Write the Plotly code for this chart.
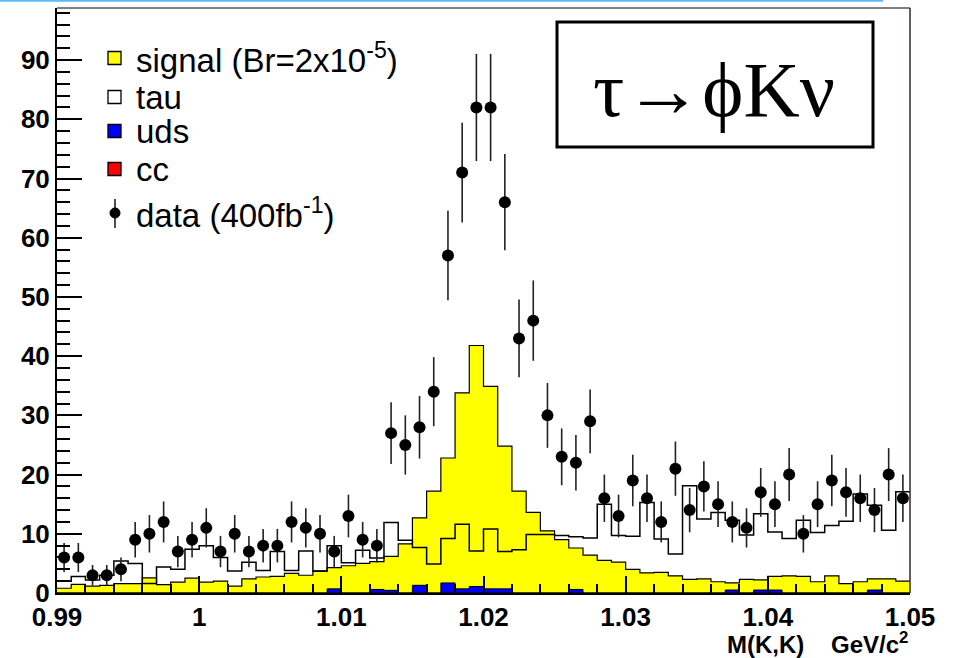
import numpy as np
import plotly.graph_objects as go

# ---- data ----
bin_lo, bin_hi, n_bins = 0.99, 1.05, 60
data_counts = [6, 6, 3, 3, 4, 9, 10, 12, 7, 9, 11, 7, 10, 7, 8, 8, 12, 11, 10, 7,
               13, 9, 8, 27, 25, 28, 34, 57, 71, 82, 82, 66, 43, 46, 30, 23, 22, 29, 16, 13,
               19, 16, 12, 21, 14, 18, 15, 12, 11, 17, 15, 20, 10, 15, 19, 17, 16, 14, 20, 16]
signal = [0.8, 1.45, 1.15, 1.3, 1.6, 1.6, 2.55, 1.4, 1.85, 2.5,
          1.85, 2.0, 1.15, 2.4, 2.7, 2.8, 3.3, 3.0, 3.7, 4.3,
          4.6, 5.0, 5.3, 6.2, 8.3, 12.7, 17.2, 22.8, 33.8, 41.8,
          34.9, 24.8, 17.2, 13.6, 10.5, 9.0, 7.6, 6.4, 5.5, 5.2,
          4.0, 3.4, 3.5, 2.9, 2.3, 2.4, 1.9, 1.7, 2.3, 2.2,
          2.8, 2.9, 2.8, 1.9, 2.9, 1.6, 1.9, 2.4, 2.4, 2.0]
tau = [2.0, 2.8, 2.2, 3.0, 5.4, 5.0, 1.6, 4.4, 4.0, 7.4,
       8.0, 6.0, 3.7, 5.2, 3.8, 7.0, 3.8, 7.1, 3.7, 8.0,
       5.1, 7.2, 5.9, 11.9, 8.9, 7.7, 4.9, 9.2, 11.6, 7.1,
       10.8, 7.0, 7.3, 9.9, 9.9, 9.7, 9.5, 9.3, 15.0, 9.7,
       9.6, 15.3, 9.1, 6.6, 18.1, 12.5, 13.6, 12.3, 9.8, 13.4,
       10.3, 9.2, 12.3, 10.2, 11.4, 12.1, 16.7, 14.8, 10.6, 17.1]
uds = [0, 0, 0, 0, 0, 0, 0, 0, 0, 0,
       0, 0, 0, 0, 0, 0, 0, 0, 0, 0.7,
       0, 0, 0.6, 0.45, 0, 1.3, 0, 1.7, 0.7, 1.1,
       0.7, 0.7, 0, 0, 0, 0, 0.6, 0, 0, 0,
       0, 0, 0, 0, 0, 0, 0, 0.5, 0, 0.5,
       0.5, 0, 0, 0, 0, 0, 0, 0.5, 0, 0]
cc = [0] * 60

legend_labels = ["signal (Br=2x10<sup>-5</sup>)", "tau", "uds", "cc", "data (400fb<sup>-1</sup>)"]
title_text = "τ→ϕKν"
x_title = "M(K,K)    GeV/c<sup>2</sup>"

# ---- geometry helpers ----
W, H = 953, 658
L, R, T, B = 57, 43, 8, 65
PW, PH = W - L - R, H - T - B


def X(px):
    return (px - L) / PW


def Y(py):
    return (H - B - py) / PH


edges = np.linspace(bin_lo, bin_hi, n_bins + 1)
centers = (edges[:-1] + edges[1:]) / 2


def step_y(vals):
    return list(vals) + [vals[-1]]


fig = go.Figure()

fig.add_trace(go.Scatter(x=edges, y=step_y(signal), mode="lines", line_shape="hv",
                         fill="tozeroy", fillcolor="#ffff00",
                         line=dict(color="black", width=1.2), showlegend=False))
fig.add_trace(go.Scatter(x=edges, y=step_y(tau), mode="lines", line_shape="hv",
                         line=dict(color="black", width=1.5), showlegend=False))
fig.add_trace(go.Scatter(x=edges, y=step_y(uds), mode="lines", line_shape="hv",
                         fill="tozeroy", fillcolor="#0000ff",
                         line=dict(color="black", width=1), showlegend=False))
fig.add_trace(go.Scatter(x=edges, y=step_y(cc), mode="lines", line_shape="hv",
                         fill="tozeroy", fillcolor="#ff0000",
                         line=dict(color="black", width=1), showlegend=False))
fig.add_trace(go.Scatter(x=centers, y=data_counts, mode="markers",
                         marker=dict(color="black", size=12, symbol="circle"),
                         error_y=dict(type="sqrt", width=0, thickness=1.6, color="#222"),
                         showlegend=False))

tickfont = dict(family="Liberation Sans, Arial, sans-serif", size=26, color="black", weight="bold")
fig.update_xaxes(range=[bin_lo, bin_hi], tick0=0.99, dtick=0.01, ticks="inside", ticklen=17,
                 tickwidth=2, tickcolor="black", showline=True, linewidth=2, linecolor="black",
                 showgrid=False, zeroline=False, tickfont=tickfont, layer="above traces",
                 minor=dict(dtick=0.002, tick0=0.99, ticks="inside", ticklen=9, tickwidth=1.5,
                            tickcolor="black", showgrid=False))
fig.update_yaxes(range=[0, 98.8], tick0=0, dtick=10, ticks="inside", ticklen=25,
                 tickwidth=2, tickcolor="black", showline=True, linewidth=2, linecolor="black",
                 showgrid=False, zeroline=False, tickfont=tickfont, layer="above traces",
                 minor=dict(dtick=2, ticks="inside", ticklen=13, tickwidth=1.5,
                            tickcolor="black", showgrid=False))

shapes = []
# frame top / right
shapes.append(dict(type="line", xref="paper", yref="paper", x0=0, x1=1, y0=1, y1=1,
                   line=dict(color="black", width=1)))
shapes.append(dict(type="line", xref="paper", yref="paper", x0=1, x1=1, y0=0, y1=1,
                   line=dict(color="#3a2626", width=1.5)))
# light blue line on top of the picture
shapes.append(dict(type="line", xref="paper", yref="paper", x0=X(0), x1=X(883), y0=Y(0.8), y1=Y(0.8),
                   line=dict(color="#5cb8ff", width=2)))
# title box
shapes.append(dict(type="rect", xref="paper", yref="paper", x0=X(557), x1=X(873), y0=Y(147), y1=Y(22),
                   line=dict(color="black", width=3), fillcolor="white", layer="above"))

# legend
leg_rows = [58, 97, 131, 169, 213]
leg_fill = ["#ffff00", "white", "#0000ff", "#ff0000"]
for yc, fc in zip(leg_rows[:4], leg_fill):
    shapes.append(dict(type="rect", xref="paper", yref="paper", x0=X(108), x1=X(121),
                       y0=Y(yc + 6.5), y1=Y(yc - 6.5), line=dict(color="black", width=1.3),
                       fillcolor=fc))
yd = leg_rows[4]
shapes.append(dict(type="line", xref="paper", yref="paper", x0=X(115), x1=X(115),
                   y0=Y(yd + 15), y1=Y(yd - 14), line=dict(color="#222", width=1.6)))
shapes.append(dict(type="circle", xref="paper", yref="paper", x0=X(110), x1=X(120),
                   y0=Y(yd + 5), y1=Y(yd - 5), line=dict(color="black", width=1), fillcolor="black"))

annotations = []
legfont = dict(family="Liberation Sans, Arial, sans-serif", size=33, color="black")
for yc, lab in zip(leg_rows, legend_labels):
    annotations.append(dict(x=X(134), y=Y(yc), xref="paper", yref="paper", text=lab,
                            showarrow=False, xanchor="left", yanchor="middle", font=legfont))
annotations.append(dict(x=X(714), y=Y(90), xref="paper", yref="paper", text=title_text,
                        showarrow=False, xanchor="center", yanchor="middle",
                        font=dict(family="Liberation Serif, Times New Roman, serif", size=78,
                                  color="black")))
annotations.append(dict(x=X(910), y=Y(643), xref="paper", yref="paper", text=x_title,
                        showarrow=False, xanchor="right", yanchor="middle",
                        font=dict(family="Liberation Sans, Arial, sans-serif", size=24,
                                  color="black", weight="bold")))

fig.update_layout(width=W, height=H, margin=dict(l=L, r=R, t=T, b=B),
                  paper_bgcolor="white", plot_bgcolor="white",
                  shapes=shapes, annotations=annotations, showlegend=False)

fig.write_html("out.html")
